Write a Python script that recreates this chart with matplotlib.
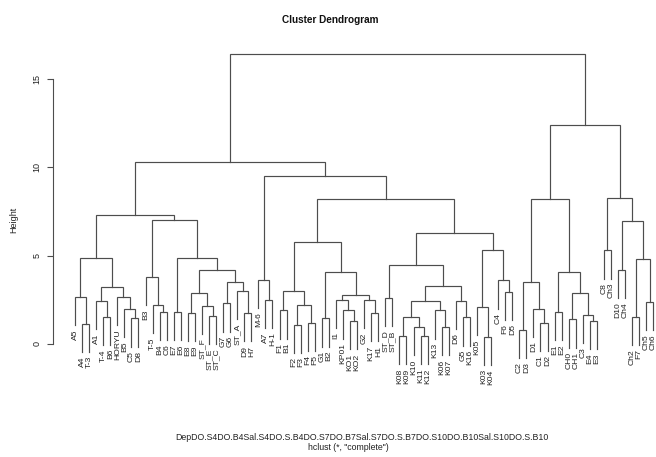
import matplotlib
matplotlib.use("Agg")
import matplotlib.pyplot as plt

plt.rcParams['font.family'] = ['Liberation Sans', 'DejaVu Sans']

# sub-trees: [left, right, merge height], leaves are label strings
grp_a = [["A5", ["A4", "T-3", 1.15], 2.65],
         [["A1", ["T-4", "B6", 1.55], 2.45],
          ["HORYU", ["B5", ["C5", "D8", 1.45], 2.0], 2.65], 3.2], 4.85]
grp_b = [["B3", ["T-5", ["B4", "C6", 1.8], 2.2], 3.8],
         [["E7", "E6", 1.8],
          [[["E8", "E9", 1.75], ["ST_F", ["ST_E", "ST_C", 1.6], 2.15], 2.9],
           [["G7", "G6", 2.3], ["ST_A", ["D9", "H7", 1.75], 3.0], 3.5], 4.2], 4.85], 7.0]
grp_m = ["M-6", ["A7", "H-1", 2.5], 3.65]
grp_f = [["F1", "B1", 1.9], [["F2", "F3", 1.1], ["F4", "F5", 1.2], 2.2], 3.0]
grp_g = [["G1", "B2", 1.45],
         [["I1", ["KP01", ["KO1", "KO2", 1.3], 1.9], 2.5],
          ["G2", ["K17", "H1", 1.75], 2.5], 2.75], 4.1]
grp_k = [["ST_D", "ST_B", 2.6],
         [[[["K08", "K09", 0.45], ["K10", ["K11", "K12", 0.45], 0.95], 1.5],
           ["K13", ["K06", "K07", 0.95], 1.9], 2.45],
          ["D6", ["G5", "K16", 1.5], 2.45], 3.3], 4.45]
grp_c = [["K05", ["K03", "K04", 0.4], 2.1], ["C4", ["F6", "D5", 2.95], 3.6], 5.3]
grp_d = [[["C2", "D3", 0.8], ["D1", ["C1", "D2", 1.2], 2.0], 3.5],
         [["E1", "E2", 1.8], [["CH0", "CH1", 1.4], ["C3", ["E4", "E3", 1.3], 1.65], 2.9], 4.1], 8.2]
grp_h = [["C8", "Ch3", 5.3],
         [["D10", "Ch4", 4.2], [["Ch2", "F7", 1.55], ["Ch5", "Ch6", 2.4], 4.8], 6.95], 8.25]

tree = [[[grp_a, grp_b, 7.3],
         [grp_m, [[grp_f, grp_g, 5.8], [grp_k, grp_c, 6.3], 8.2], 9.5], 10.3],
        [grp_d, grp_h, 12.4], 16.4]

hang = 0.1 * (16.4 - 0.4)
line_col = '#4d4d4d'

fig = plt.figure(figsize=(6.56, 4.57), dpi=100)
W, H = 656, 457
# axes placed in pixels: left spine at x=53, y from 40 to 380
ax = fig.add_axes([53 / W, (H - 380) / H, (W - 53) / W, 340 / H])

order = []


def draw(node):
    if isinstance(node, str):
        order.append(node)
        return len(order), None
    left, right, h = node
    xl, hl = draw(left)
    xr, hr = draw(right)
    yl = hl if hl is not None else h - hang
    yr = hr if hr is not None else h - hang
    ax.plot([xl, xl, xr, xr], [yl, h, h, yr], color=line_col, lw=0.85,
            solid_joinstyle='miter')
    for x, hh, y in ((xl, hl, yl), (xr, hr, yr)):
        if hh is None:
            ax.annotate(order[int(x) - 1], (x, y), xytext=(0, -3),
                        textcoords='offset points', rotation=90,
                        ha='center', va='top', fontsize=6.1, color='#222222')
    return (xl + xr) / 2, h


draw(tree)

n = len(order)
ax.set_xlim(1 - 22 / 7.05, n + 2.7 / 7.05)
ax.set_ylim((344 - 380) / 17.67, (344 - 40) / 17.67)

for s in ['top', 'right', 'bottom']:
    ax.spines[s].set_visible(False)
ax.spines['left'].set_bounds(0, 15)
ax.spines['left'].set_color('#4d4d4d')
ax.spines['left'].set_linewidth(0.8)
ax.set_xticks([])
ax.set_yticks([0, 5, 10, 15])
ax.tick_params(axis='y', length=4.5, width=0.8, color='#4d4d4d',
               labelsize=6.5, pad=4, labelcolor='#222222')
for lbl in ax.get_yticklabels():
    lbl.set_rotation(90)
    lbl.set_va('center')

fig.text(330 / W, 1 - 20 / H, 'Cluster Dendrogram', ha='center', va='center',
         fontsize=7.2, fontweight='bold', color='#111111')
fig.text(14 / W, 1 - 220 / H, 'Height', rotation=90, ha='center', va='center',
         fontsize=6.5, color='#222222')
fig.text(362 / W, 1 - 437 / H,
         'DepDO.S4DO.B4Sal.S4DO.S.B4DO.S7DO.B7Sal.S7DO.S.B7DO.S10DO.B10Sal.S10DO.S.B10',
         ha='center', va='center', fontsize=6.3, color='#222222')
fig.text(348 / W, 1 - 448 / H, 'hclust (*, "complete")', ha='center', va='center',
         fontsize=6.3, color='#222222')

fig.savefig('out.png', dpi=100)
